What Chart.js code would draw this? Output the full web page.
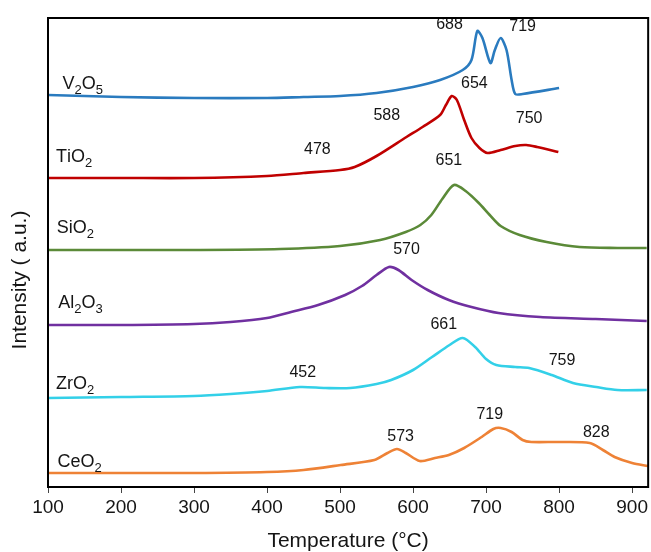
<!DOCTYPE html>
<html>
<head>
<meta charset="utf-8">
<script src="https://cdn.jsdelivr.net/npm/chart.js@4.4.1/dist/chart.umd.min.js"></script>
<style>
  html, body { margin: 0; padding: 0; background: #fff; }
  #wrap { width: 651px; height: 552px; }
</style>
</head>
<body>
<div id="wrap"><canvas id="tpr"></canvas></div>
<script>
// temperatures (°C) and intensities (a.u., stacked offsets)
const names = ["V2O5", "TiO2", "SiO2", "Al2O3", "ZrO2", "CeO2"];
const colors = ["#2a7bbf", "#c00000", "#5b8a38", "#7030a0", "#33d0e8", "#ee8236"];

const v2o5T = [100, 200, 300, 400, 450, 500, 550, 600, 637, 668, 680, 688, 695, 706, 712, 720, 728, 735, 740, 750, 800];
const v2o5I = [392, 390, 389, 389, 390, 391, 394, 400, 407, 417, 427, 456, 449, 424, 437, 449, 437, 407, 393, 393, 399];

const tio2T = [100, 200, 300, 400, 450, 500, 520, 550, 591, 613, 637, 645, 653, 660, 670, 680, 691, 702, 720, 740, 755, 770, 799];
const tio2I = [309, 309, 309, 311, 314, 317, 320, 331, 350, 360, 372, 382, 391, 387, 367, 349, 339, 334, 337, 341, 342, 340, 335];

const sio2T = [100, 200, 300, 418, 500, 555, 590, 610, 625, 640, 656, 672, 690, 705, 720, 746, 783, 828, 880, 920];
const sio2I = [237, 237, 237, 238, 241, 247, 255, 262, 272, 288, 302, 296, 284, 272, 261, 252, 245, 240, 239, 239];

const al2o3T = [100, 200, 300, 350, 400, 433, 470, 507, 530, 550, 567, 580, 598, 620, 649, 680, 717, 774, 850, 920];
const al2o3I = [162, 162, 163, 165, 169, 175, 182, 192, 201, 212, 220, 217, 207, 197, 187, 180, 174, 170, 168, 166];

const zro2T = [100, 200, 300, 350, 400, 445, 480, 514, 550, 570, 600, 626, 650, 668, 685, 700, 714, 740, 759, 790, 819, 851, 880, 920];
const zro2I = [89, 90, 91, 93, 96, 100, 99, 99, 103, 107, 117, 130, 142, 149, 140, 128, 122, 120, 119, 112, 104, 100, 97, 97];

const ceo2T = [100, 200, 300, 400, 450, 501, 547, 565, 578, 590, 609, 630, 649, 670, 694, 710, 720, 735, 750, 762, 800, 842, 860, 876, 900, 922];
const ceo2I = [14, 14, 14, 15, 17, 22, 27, 34, 38, 34, 26, 29, 32, 39, 50, 58, 59, 55, 47, 45, 45, 44, 37, 30, 24, 21];

const xTicks = [100, 200, 300, 400, 500, 600, 700, 800, 900];

// peak labels
const peakText = ["688", "719", "654", "588", "750", "478", "651", "570", "661", "759", "452", "573", "719", "828"];
const peakAt = [[650, 462], [750, 460], [684, 403], [564, 371], [759, 368], [469, 337], [649, 326],
                [591, 237], [642, 162], [804, 126], [449, 114], [583, 50], [705, 72], [851, 54]];
const nameAt = [[120, 403], [111, 330], [112, 259], [114, 184], [111, 103], [113, 25]];

const seriesT = [v2o5T, tio2T, sio2T, al2o3T, zro2T, ceo2T];
const seriesI = [v2o5I, tio2I, sio2I, al2o3I, zro2I, ceo2I];

const FONT = "'Liberation Sans', Arial, sans-serif";
const INK = "#151515";

const datasets = names.map((n, k) => ({
  label: n,
  data: seriesT[k].map((t, i) => ({ x: t, y: seriesI[k][i] })),
  borderColor: colors[k],
  borderWidth: 2.6,
  pointRadius: 0,
  tension: 0.28,
  fill: false
}));

// draws formula with subscripted digits
function drawFormula(ctx, text, x, y) {
  let cx = x;
  for (const ch of text) {
    const sub = /[0-9]/.test(ch);
    ctx.font = (sub ? "13px " : "18px ") + FONT;
    ctx.fillText(ch, cx, sub ? y + 6 : y);
    cx += ctx.measureText(ch).width;
  }
}

const textPlugin = {
  id: "texts",
  afterDatasetsDraw(chart) {
    const { ctx, chartArea, scales } = chart;
    ctx.save();
    ctx.fillStyle = INK;
    ctx.textBaseline = "middle";
    ctx.textAlign = "center";
    ctx.font = "16px " + FONT;
    peakText.forEach((t, i) => {
      ctx.fillText(t, scales.x.getPixelForValue(peakAt[i][0]), scales.y.getPixelForValue(peakAt[i][1]));
    });
    ctx.textAlign = "left";
    names.forEach((n, i) => {
      drawFormula(ctx, n, scales.x.getPixelForValue(nameAt[i][0]), scales.y.getPixelForValue(nameAt[i][1]));
    });
    // y axis title
    ctx.save();
    ctx.translate(20, 280);
    ctx.rotate(-Math.PI / 2);
    ctx.textAlign = "center";
    ctx.font = "21px " + FONT;
    ctx.fillText("Intensity ( a.u.)", 0, 0);
    ctx.restore();
    ctx.strokeStyle = "#000";
    ctx.lineWidth = 2;
    ctx.strokeRect(chartArea.left, chartArea.top, chartArea.right - chartArea.left, chartArea.bottom - chartArea.top);
    ctx.restore();
  }
};

new Chart(document.getElementById("tpr"), {
  type: "line",
  data: { datasets },
  plugins: [textPlugin],
  options: {
    responsive: true,
    maintainAspectRatio: false,
    animation: false,
    layout: { padding: { top: 18, right: 2, left: 0, bottom: 0 } },
    plugins: { legend: { display: false }, tooltip: { enabled: false } },
    scales: {
      x: {
        type: "linear",
        min: 100,
        max: 922,
        afterBuildTicks: (s) => { s.ticks = xTicks.map(v => ({ value: v })); },
        afterFit: (s) => { s.height = 65; },
        grid: { display: true, drawOnChartArea: false, drawTicks: true, tickLength: 6, color: "#444" },
        border: { display: true, color: "#000", width: 2 },
        ticks: { color: INK, font: { family: FONT, size: 19 }, padding: 3, maxRotation: 0 },
        title: { display: true, text: "Temperature (°C)", color: INK, font: { family: FONT, size: 21, lineHeight: 1.0 }, padding: { top: 0, bottom: 0 } }
      },
      y: {
        min: 0,
        max: 469,
        afterFit: (s) => { s.width = 48; },
        grid: { display: false },
        border: { display: true, color: "#000", width: 2 },
        ticks: { display: false }
      }
    }
  }
});
</script>
</body>
</html>
